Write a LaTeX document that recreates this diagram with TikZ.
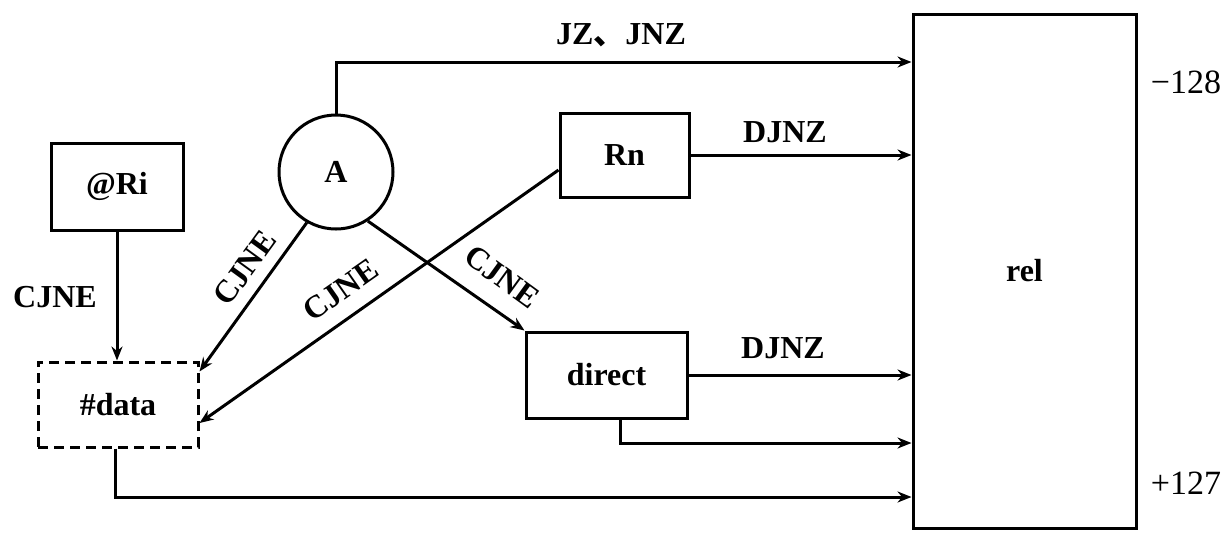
\documentclass[tikz,border=0pt]{standalone}
\usepackage{fontspec}
\setmainfont{Liberation Serif}
\newfontfamily\cjkfont{Noto Sans CJK SC}
\usetikzlibrary{arrows.meta,calc}
\begin{document}
\begin{tikzpicture}[x=0.5pt,y=-0.5pt, line width=1.5pt,
  font=\fontsize{16}{18}\selectfont\bfseries,
  box/.style={draw, rectangle, inner sep=0pt},
  arr/.style={-{Stealth[length=7pt,width=5.5pt]}},
  lbl/.style={inner sep=0pt},
  num/.style={inner sep=0pt, font=\fontsize{17}{19}\selectfont}]
\useasboundingbox (0,0) rectangle (1226,532);
% nodes
\node[box, minimum width=111.5pt, minimum height=257pt] (rel) at (1024.5,271) {rel};
\node[draw, circle, minimum size=57pt, inner sep=0pt] (A) at (336,172) {A};
\node[box, minimum width=66pt, minimum height=43.5pt] (Ri) at (117,186.5) {@Ri};
\node[box, dash pattern=on 5pt off 3pt, minimum width=80pt, minimum height=42.5pt] (data) at (118,404.5) {\#data};
\node[box, minimum width=64.5pt, minimum height=42pt] (Rn) at (624.5,155) {Rn};
\node[box, minimum width=80.5pt, minimum height=43pt] (direct) at (606.5,375) {direct};
% connectors
\draw[arr] (A.north) |- (rel.west |- 0,62);
\draw[arr] (Rn.east) -- (Rn.east -| rel.west);
\draw[arr] (direct.east) -- (direct.east -| rel.west);
\draw[arr] ([xshift=6.75pt]direct.south) |- (rel.west |- 0,443);
\draw[arr] ([xshift=-1.5pt]data.south) |- (rel.west |- 0,497);
\draw[arr] (Ri.south) -- (Ri.south |- data.north);
\draw[arr] (A.-120) -- ([yshift=-5.5pt]data.north east);
\draw[arr] ([yshift=-7.5pt]Rn.west) -- ([yshift=-9.25pt]data.east);
\draw[arr] (A.-57) -- (direct.north west);
% labels
\node[lbl] (l0) at (621,35) {JZ{\cjkfont 、}JNZ};
\node[lbl] (l1) at (785,132) {DJNZ};
\node[lbl] (l2) at (783,348) {DJNZ};
\node[lbl] (l3) at (55,297) {CJNE};
\node[lbl, rotate=54] (l4) at (245,268) {CJNE};
\node[lbl, rotate=35] (l5) at (341,290) {CJNE};
\node[lbl, rotate=-36] (l6) at (502,277) {CJNE};
\node[num] (n1) at (1186,82) {−128};
\node[num] (n2) at (1186,483) {+127};
\end{tikzpicture}
\end{document}
